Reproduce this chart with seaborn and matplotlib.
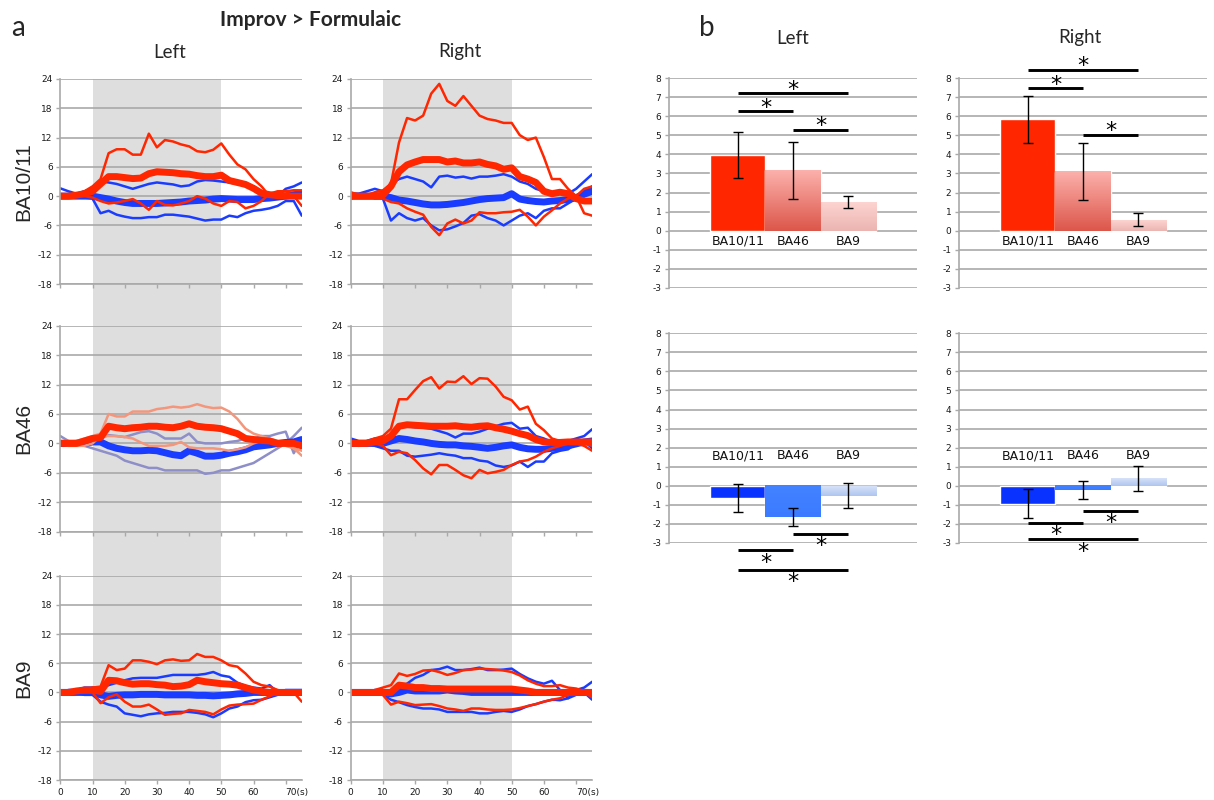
import numpy as np
import pandas as pd
import matplotlib
matplotlib.use("Agg")
import matplotlib.pyplot as plt
import matplotlib.transforms as mtransforms
from matplotlib.patches import Rectangle
from matplotlib.colors import LinearSegmentedColormap
import seaborn as sns

# ---------------- data: panel a (time courses) ----------------
TIME = [0, 2.5, 5, 7.5, 10, 12.5, 15, 17.5, 20, 22.5, 25, 27.5, 30, 32.5, 35,
        37.5, 40, 42.5, 45, 47.5, 50, 52.5, 55, 57.5, 60, 62.5, 65, 67.5, 70, 72.5, 75]
X_TICKS = [0, 10, 20, 30, 40, 50, 60, 70]
X_TICK_LABELS = ["0", "10", "20", "30", "40", "50", "60", "70(s)"]
Y_TICKS_A = [-18, -12, -6, 0, 6, 12, 18, 24]

# BA10/11 Left
L1011_red_m = [0, 0, 0.2, 0.5, 1, 2.5, 4, 4, 3.8, 3.6, 3.7, 4.6, 5, 4.9, 4.8, 4.6, 4.5, 4.2, 4.0, 4.0, 4.3, 3.2, 2.8, 2.4, 1.6, 0.6, 0.3, 0.1, 0, 0, 0]
L1011_red_hi = [0, 0.2, 0.3, 1, 2, 3.5, 8.8, 9.6, 9.6, 8.5, 8.5, 12.8, 10, 11.5, 11.2, 10.6, 10.2, 9.2, 9, 9.5, 10.8, 8.5, 6.5, 5.5, 3.5, 2, 0, 0.8, 1, 1.2, 1.2]
L1011_red_lo = [0, 0, 0, 0, -0.3, -1, -1.5, -1.3, -1, -0.6, -1.5, -2.8, -1, -1.8, -1.9, -1.5, -1, 0, -0.5, -1.5, -2, -1, -1.2, -2.5, -2, -1, 0.5, 1, 1, 0, -2]
L1011_blue_m = [0, 0, 0, 0, 0, -0.3, -0.6, -1, -1.3, -1.5, -1.5, -1.5, -1.5, -1.4, -1.3, -1.2, -1, -0.9, -0.8, -0.6, -0.5, -0.6, -0.7, -0.7, -0.7, -0.5, -0.4, -0.2, 0, 0.3, 0.5]
L1011_blue_hi = [1.6, 1, 0.5, 1, 1.5, 3, 2.8, 2.5, 2, 1.5, 2, 2.5, 2.8, 2.6, 2.4, 2, 2.2, 3, 3.3, 3.2, 3, 2.8, 2.5, 2.2, 2, 1, 0.5, 0, 1.5, 2, 2.8]
L1011_blue_lo = [0, 0, -0.3, -0.3, -0.5, -3.5, -3, -3.8, -4.2, -4.5, -4.5, -4.3, -4.3, -3.8, -3.8, -4, -4.2, -4.6, -5, -4.8, -4.8, -4, -4.3, -3.5, -3, -2.8, -2.5, -2, -1, -1, -4]

# BA10/11 Right
R1011_red_m = [0, 0, 0, 0, 0.2, 2, 5, 6.4, 7, 7.5, 7.5, 7.5, 7, 7.2, 6.8, 6.8, 7, 6.5, 6.2, 5.5, 5.8, 4, 3.5, 2.8, 1, 0.5, 0.8, 0.5, -0.5, -1, -1]
R1011_red_hi = [0.8, 0.3, 0.2, 0.8, 1.2, 2.5, 11, 16, 15.5, 16.5, 21, 23, 19.5, 18.5, 20.5, 18.5, 16.5, 15.8, 15.5, 15, 15, 12.5, 11.5, 12, 8, 3.5, 3.5, 1.5, 0, -3.5, -4]
R1011_red_lo = [0, 0, 0.3, -0.5, -0.5, -1.2, -1.5, -2.5, -3.2, -3.8, -6.3, -8, -5.6, -4.8, -5.6, -5, -3.3, -3.5, -3.5, -3.3, -3.2, -2.8, -4.2, -6, -4.2, -2.9, -1.5, -0.5, 0, 1.5, 2]
R1011_blue_m = [0, 0, 0, 0, 0, -0.3, -0.8, -1, -1.3, -1.6, -1.8, -1.8, -1.7, -1.5, -1.3, -1, -0.7, -0.5, -0.4, -0.3, 0.5, -0.6, -0.9, -1.1, -1.2, -1, -0.9, -0.7, -0.3, 0.4, 1]
R1011_blue_hi = [0.5, 0.5, 1, 1.5, 1, 2.5, 3.5, 4, 3.5, 3, 1.8, 4, 4.2, 3.8, 4, 3.6, 4, 4, 4.2, 4.5, 4, 3, 2.5, 1.5, 1, 0.5, 0.5, 0.5, 1.5, 3, 4.5]
R1011_blue_lo = [-0.5, 0, 0, 0, -0.5, -5, -3.5, -4.5, -5, -4.5, -6, -7, -6.8, -6.2, -5.5, -4, -3.7, -4.5, -5, -6, -5, -4, -3.5, -4.5, -3, -2.5, -2.5, -1.5, -0.5, 1, 2]

# BA46 Left
L46_red_m = [0, 0, 0, 0.5, 1, 1.2, 3.5, 3.2, 3, 3.2, 3.3, 3.5, 3.5, 3.3, 3.2, 3.5, 4, 3.5, 3.3, 3.2, 3, 2.5, 2, 1, 0.8, 0.6, 0.5, 0, 0, 0, -0.5]
L46_red_hi = [0, 0.3, 0.5, 1, 1.5, 2, 6, 5.5, 5.5, 6.5, 6.5, 6.5, 7, 7.2, 7.5, 7.3, 7.5, 8, 7.5, 7.2, 7.3, 6.5, 5, 3, 2, 1.5, 1, 0.5, 0, -1, -2.5]
L46_red_lo = [0, -0.5, -0.5, -0.5, 0, 1.5, 1.5, 1.5, 1.3, 1, 0.2, -0.5, -0.5, -0.5, -0.3, 0.3, -0.8, -1, -1, -1, -1.2, -1.5, -1.2, -0.8, 0, 0.5, 0.5, 0, -0.5, -1, -1.5]
L46_blue_m = [0, 0, 0, 0, 0.3, 0.3, -0.5, -1, -1.3, -1.5, -1.5, -1.4, -1.5, -1.9, -2.3, -2.5, -1.5, -2, -2.6, -2.6, -2.4, -2, -1.7, -1.3, -0.7, -0.5, -0.3, 0, 0.2, 0.3, 0.8]
L46_blue_hi = [0.5, 0.5, 0.5, 0.5, 0.5, 1, 1.7, 1.5, 1.3, 1.8, 2.3, 2.5, 2, 1, 1, 1, 2, 0.3, 0, 0, 0, 0.3, 0.5, 1, 1, 1.5, 1.5, 2, 2.4, -2, 1]
L46_blue_lo = [1.5, 0.5, 0, -0.5, -1, -1.5, -2, -2.5, -3.5, -4, -4.5, -5, -5, -5.5, -5.5, -5.5, -5.5, -5.5, -6.2, -6, -5.5, -5.5, -5, -4.5, -4, -3, -2, -1, 0, 1.5, 3.2]

# BA46 Right
R46_red_m = [0, 0, 0, 0.3, 0.5, 1.5, 3.5, 3.8, 3.7, 3.6, 3.5, 3.5, 3.5, 3.6, 3.4, 3.3, 3.5, 3.6, 3.2, 2.9, 2.5, 2.0, 1.6, 0.8, 0.3, 0.2, 0.2, 0.3, 0.3, 0.3, 0.3]
R46_red_hi = [0.5, 0, 0.5, 1, 1.5, 3, 9, 9, 10.9, 12.7, 13.5, 11.2, 12.6, 12.5, 13.7, 12.1, 13.3, 13.2, 11.6, 9.5, 8.8, 6.9, 7.5, 4, 2.7, 1, 0.5, 0.5, 0, 0, -0.5]
R46_red_lo = [0, -0.5, 0, 0, -0.5, -2.4, -1.7, -2, -3.4, -5.1, -6.3, -4.4, -4.4, -5.4, -6.5, -7.1, -5.4, -6.1, -5.8, -5.4, -4.4, -3.7, -3.4, -2.7, -1.7, -1, -0.5, 0, 0, -0.5, -1.5]
R46_blue_m = [0, 0, 0, 0, 0, 0.5, 1, 0.8, 0.5, 0.3, 0, -0.2, -0.3, -0.3, -0.5, -0.6, -0.8, -1, -0.8, -0.5, -0.3, -0.8, -1.1, -1.2, -1.2, -1, -0.8, -0.5, -0.1, 0.3, 0.5]
R46_blue_hi = [1, 0.5, 0.5, 1, 1, 1.5, 3.7, 3.5, 3.3, 3.2, 3, 2.5, 2, 1.2, 2, 2, 2.4, 3, 3.5, 4, 4.2, 3, 3.2, 1.5, 1, 0.3, -0.3, 0.5, 1, 1.5, 2.9]
R46_blue_lo = [0, 0, 0, -0.5, -1, -1.5, -1.5, -2.5, -2.7, -2.5, -2.3, -2, -2.3, -2.5, -3, -3, -3.5, -3.7, -4.5, -4.8, -4.5, -3.7, -4.8, -3.7, -3.7, -2, -1.5, -1.2, 0, 0.5, -1]

# BA9 Left
L9_red_m = [0, 0, 0.3, 0.5, 0.5, 0.2, 2.5, 2.4, 2, 1.7, 1.8, 1.8, 1.6, 1.5, 1.2, 1.3, 1.6, 2.5, 2.2, 2, 1.8, 1.7, 1.5, 1, 0.5, 0.2, 0, 0, 0, 0, 0]
L9_red_hi = [0, 0, 0.5, 0.5, 1, 1.2, 5.6, 4.6, 4.9, 6.6, 6.6, 6.3, 5.8, 6.6, 6.8, 6.5, 6.6, 7.9, 7.3, 7.3, 6.6, 5.6, 5.3, 3.9, 2.2, 1.5, 1.2, 0.5, 0.2, 0, -1.9]
L9_red_lo = [0, 0, 0, 0, 0, -2.2, -1, -0.4, -1.9, -2.9, -2.9, -2.5, -3.5, -4.6, -4.4, -4.3, -3.6, -3.8, -4, -4.5, -3.5, -2.7, -2.5, -2.4, -2.3, -1.5, -0.8, 0, 0, 0, 0]
L9_blue_m = [0, 0, 0, 0, 0, -0.5, -0.8, -0.6, -0.5, -0.5, -0.4, -0.4, -0.4, -0.5, -0.5, -0.5, -0.5, -0.6, -0.6, -0.7, -0.6, -0.5, -0.3, -0.2, 0, 0, 0, 0, 0, 0, 0]
L9_blue_hi = [0, 0.5, 0.5, 1, 1, 1, 1.5, 2, 2.5, 2.9, 3, 3, 3, 3.3, 3.6, 3.6, 3.6, 3.6, 3.8, 4.2, 3.5, 3.2, 2, 1.3, 1, 0.8, 1.5, 0, 0.5, 0.5, 0.5]
L9_blue_lo = [0, 0, 0, -0.5, -0.5, -1.9, -2.5, -2.9, -4.3, -4.6, -4.9, -4.5, -4.3, -4.2, -4, -4, -4, -4.2, -4.5, -5.1, -4.3, -3.3, -2.9, -2, -1.6, -1.5, -1, -0.5, 0, 0, 0]

# BA9 Right
R9_red_m = [0, 0, 0, 0, 0, 0, 1.5, 1.3, 1, 1, 0.8, 0.8, 0.7, 0.7, 0.7, 0.7, 0.7, 0.7, 0.7, 0.7, 0.7, 0.5, 0.3, 0, 0, 0, 0, 0, 0, 0, 0]
R9_red_hi = [0, 0, 0, 0.5, 1, 1.5, 3.9, 3.4, 3.8, 4.5, 4.6, 4.2, 3.6, 4, 4.6, 4.7, 4.9, 4.8, 4.7, 4.5, 4.2, 3.5, 2.5, 1.8, 1.3, 1.3, 1.5, 1, 0.8, 0.3, 0]
R9_red_lo = [0, 0, 0, 0, -0.5, -2.5, -1.9, -2.2, -2.6, -2.5, -2.4, -2.8, -3.3, -3.5, -3.8, -3.3, -3.3, -3.5, -3.6, -3.6, -3.5, -3.2, -2.8, -2.4, -1.9, -1.5, -1.2, -0.5, 0, 0, -1]
R9_blue_m = [0, 0, 0, 0, 0, -0.3, 0, 0.5, 0.3, 0.3, 0.3, 0.3, 0.5, 0.3, 0.2, 0, 0, 0, 0, 0, 0, 0, 0, 0, 0, 0, 0, 0, 0, 0, 0]
R9_blue_hi = [0, 0, 0, 0.5, 0.5, 0, 0.5, 1.8, 3, 3.6, 4.6, 4.8, 5.3, 4.6, 4.6, 4.8, 5.1, 4.6, 4.6, 4.7, 4.9, 3.8, 2.9, 2.2, 1.8, 2.4, 0.5, -1.2, 0.5, 1, 2.2]
R9_blue_lo = [0, 0, 0, 0, -0.5, -1.5, -2, -2.6, -3, -3.3, -3.3, -3.5, -4, -4, -4, -4, -4.3, -4.3, -4, -3.8, -4, -3.5, -2.8, -2.4, -1.9, -1.5, -1.6, -1.2, -0.5, 0, -1.5]

ROW_LABELS = ["BA10/11", "BA46", "BA9"]

# ---------------- data: panel b (bar charts) ----------------
CATS = ["BA10/11", "BA46", "BA9"]
L_IMPROV = [3.97, 3.16, 1.51]
L_IMPROV_ERR = [1.22, 1.50, 0.32]
R_IMPROV = [5.84, 3.10, 0.57]
R_IMPROV_ERR = [1.24, 1.50, 0.33]
L_FORMUL = [-0.64, -1.65, -0.52]
L_FORMUL_ERR = [0.74, 0.47, 0.66]
R_FORMUL = [-0.93, -0.23, 0.39]
R_FORMUL_ERR = [0.75, 0.46, 0.67]
Y_TICKS_B = [-3, -2, -1, 0, 1, 2, 3, 4, 5, 6, 7, 8]

# significance brackets: (from bar, to bar, line height, star centre)
SIG_L_IMPROV = [(0, 2, 7.23, 7.62), (0, 1, 6.27, 6.66), (1, 2, 5.30, 5.72)]
SIG_R_IMPROV = [(0, 2, 8.46, 8.88), (0, 1, 7.49, 7.90), (1, 2, 5.02, 5.44)]
SIG_L_FORMUL = [(1, 2, -2.51, -2.92), (0, 1, -3.39, -3.80), (0, 2, -4.40, -4.84)]
SIG_R_FORMUL = [(1, 2, -1.31, -1.73), (0, 1, -1.94, -2.36), (0, 2, -2.78, -3.24)]

# ---------------- style ----------------
sns.set_theme(style="white")
plt.rcParams['font.family'] = ['DejaVu Sans']
plt.rcParams['axes.unicode_minus'] = False

W, H = 1214, 800
fig = plt.figure(figsize=(W / 100, H / 100), dpi=100)
GRID_C = '#a9a9a9'
RED = '#ff2600'
BLUE = '#1a3cff'
SALMON = '#f3967c'
GREYBLUE = '#8e8ec8'
TICK_FS = 6.5


def frect(x, y_top, w, h):
    return [x / W, 1 - (y_top + h) / H, w / W, h / H]


# ---------------- panel a ----------------
col_x = [60.3, 350.7]
col_w = 241.5
row_top = [79.0, 325.7, 575.7]
row_h = [205.0, 206.0, 204.3]

series = [
    [(L1011_red_m, L1011_red_hi, L1011_red_lo, L1011_blue_m, L1011_blue_hi, L1011_blue_lo),
     (R1011_red_m, R1011_red_hi, R1011_red_lo, R1011_blue_m, R1011_blue_hi, R1011_blue_lo)],
    [(L46_red_m, L46_red_hi, L46_red_lo, L46_blue_m, L46_blue_hi, L46_blue_lo),
     (R46_red_m, R46_red_hi, R46_red_lo, R46_blue_m, R46_blue_hi, R46_blue_lo)],
    [(L9_red_m, L9_red_hi, L9_red_lo, L9_blue_m, L9_blue_hi, L9_blue_lo),
     (R9_red_m, R9_red_hi, R9_red_lo, R9_blue_m, R9_blue_hi, R9_blue_lo)],
]

axes_a = [[None, None] for _ in range(3)]
for r in range(3):
    for c in range(2):
        ax = fig.add_axes(frect(col_x[c], row_top[r], col_w, row_h[r]))
        ax.set_facecolor('none')
        axes_a[r][c] = ax
        rm, rh, rl, bm, bh, bl = series[r][c]
        thin_red = SALMON if (r == 1 and c == 0) else RED
        thin_blue = GREYBLUE if (r == 1 and c == 0) else BLUE
        for vals in (bh, bl):
            sns.lineplot(x=TIME, y=vals, ax=ax, color=thin_blue, lw=1.8, sort=False, estimator=None)
        sns.lineplot(x=TIME, y=bm, ax=ax, color=BLUE, lw=5.0, sort=False, estimator=None)
        for vals in (rh, rl):
            sns.lineplot(x=TIME, y=vals, ax=ax, color=thin_red, lw=1.8, sort=False, estimator=None)
        sns.lineplot(x=TIME, y=rm, ax=ax, color=RED, lw=5.0, sort=False, estimator=None)
        ax.set_xlim(0, 75)
        ax.set_ylim(-18, 24)
        ax.set_yticks(Y_TICKS_A)
        ax.set_yticklabels([str(v) for v in Y_TICKS_A])
        ax.set_xticks(X_TICKS)
        if r == 2:
            ax.set_xticklabels(X_TICK_LABELS)
            lab = ax.get_xticklabels()[-1]
            lab.set_ha('left')
            lab.set_transform(lab.get_transform() +
                              mtransforms.ScaledTranslation(-6 / 72, 0, fig.dpi_scale_trans))
        else:
            ax.set_xticklabels([])
        ax.set_xlabel('')
        ax.set_ylabel('')
        ax.grid(axis='y', color=GRID_C, lw=1.2)
        ax.grid(axis='x', visible=False)
        ax.set_axisbelow(True)
        for s in ['top', 'right']:
            ax.spines[s].set_visible(False)
        for s in ['left', 'bottom']:
            ax.spines[s].set_color(GRID_C)
            ax.spines[s].set_linewidth(1.2)
        ax.tick_params(axis='both', which='major', bottom=True, left=True, color=GRID_C,
                       length=3, width=1, pad=2.5, labelsize=TICK_FS, labelcolor='#1a1a1a')

# grey stimulus period spanning all three rows
for c in range(2):
    trans = mtransforms.blended_transform_factory(axes_a[2][c].transData, fig.transFigure)
    y0 = 1 - (row_top[2] + row_h[2]) / H
    y1 = 1 - row_top[0] / H
    rect = Rectangle((10, y0), 40, y1 - y0, transform=trans, facecolor='#dedede',
                     edgecolor='none', zorder=-1)
    fig.add_artist(rect)

for r in range(3):
    fig.text(24 / W, 1 - (row_top[r] + row_h[r] / 2) / H, ROW_LABELS[r], rotation=90,
             ha='center', va='center', fontsize=15, family='Liberation Sans')

fig.text(18 / W, 1 - 28 / H, 'a', ha='center', va='center', fontsize=20, family='Lato')
fig.text(311 / W, 1 - 20 / H, 'Improv > Formulaic', ha='center', va='center',
         fontsize=15, family='Lato', fontweight='bold')
fig.text(170 / W, 1 - 52 / H, 'Left', ha='center', va='center', fontsize=13.5, family='Lato')
fig.text(460 / W, 1 - 52 / H, 'Right', ha='center', va='center', fontsize=13.5, family='Lato')

# ---------------- panel b ----------------
fig.text(707 / W, 1 - 28 / H, 'b', ha='center', va='center', fontsize=20, family='Lato')
fig.text(793 / W, 1 - 38 / H, 'Left', ha='center', va='center', fontsize=13.5, family='Lato')
fig.text(1080 / W, 1 - 38 / H, 'Right', ha='center', va='center', fontsize=13.5, family='Lato')

RED_COLS = [('#ff2600', '#ff2600'), ('#fcb1ac', '#dc564a'), ('#fdd4d1', '#ebb4b1')]
BLUE_COLS = [('#0a32ff', '#0a32ff'), ('#4382ff', '#3b7bff'), ('#d6e2f8', '#aec5f0')]

bx = [669.0, 959.0]
bw = 248.0
by = [78.3, 333.3]
bh = [209.4, 209.7]

panels_b = [
    (0, 0, L_IMPROV, L_IMPROV_ERR, RED_COLS, SIG_L_IMPROV, -0.56),
    (0, 1, R_IMPROV, R_IMPROV_ERR, RED_COLS, SIG_R_IMPROV, -0.56),
    (1, 0, L_FORMUL, L_FORMUL_ERR, BLUE_COLS, SIG_L_FORMUL, 1.58),
    (1, 1, R_FORMUL, R_FORMUL_ERR, BLUE_COLS, SIG_R_FORMUL, 1.58),
]

for (r, c, vals, errs, cols, sigs, lab_y) in panels_b:
    ax = fig.add_axes(frect(bx[c], by[r], bw, bh[r]))
    df = pd.DataFrame({'region': CATS, 'value': vals})
    sns.barplot(data=df, x='region', y='value', hue='region', order=CATS, hue_order=CATS,
                palette=[cc[0] for cc in cols], width=1.0, saturation=1, legend=False,
                errorbar=None, ax=ax, zorder=2)
    # gradient fill for the bars
    for patch, (ctop, cbot) in zip(ax.patches, cols):
        x0, y0 = patch.get_x(), patch.get_y()
        w, h = patch.get_width(), patch.get_height()
        ylo, yhi = min(y0, y0 + h), max(y0, y0 + h)
        if ctop != cbot:
            cmap = LinearSegmentedColormap.from_list('g', [cbot, ctop])
            ax.imshow(np.linspace(0, 1, 128).reshape(-1, 1), extent=[x0, x0 + w, ylo, yhi],
                      origin='lower', cmap=cmap, aspect='auto', zorder=2.1,
                      interpolation='bilinear')
    ax.errorbar(range(len(CATS)), vals, yerr=errs, fmt='none', ecolor='black',
                elinewidth=1.0, capsize=3.5, capthick=1.0, zorder=4)
    for i, lab in enumerate(CATS):
        ax.text(i, lab_y, lab, ha='center', va='center', fontsize=9, color='#111111', zorder=5)
    for (i, j, yl, ys) in sigs:
        ax.plot([i, j], [yl, yl], color='black', lw=2.1, solid_capstyle='butt',
                clip_on=False, zorder=5)
        ax.annotate('*', xy=((i + j) / 2, ys), xytext=(0, -7.5), textcoords='offset points',
                    ha='center', va='baseline', fontsize=16, color='black',
                    annotation_clip=False, zorder=5)
    ax.set_xlim(-1.25, 3.25)
    ax.set_ylim(-3, 8)
    ax.set_yticks(Y_TICKS_B)
    ax.set_yticklabels([str(v) for v in Y_TICKS_B])
    ax.set_xticks([])
    ax.set_xlabel('')
    ax.set_ylabel('')
    ax.grid(axis='y', color=GRID_C, lw=1.2)
    ax.grid(axis='x', visible=False)
    ax.set_axisbelow(True)
    for s in ['top', 'right', 'bottom']:
        ax.spines[s].set_visible(False)
    ax.spines['left'].set_color(GRID_C)
    ax.spines['left'].set_linewidth(1.2)
    ax.tick_params(axis='y', left=True, color=GRID_C, length=3, width=1, pad=2.5,
                   labelsize=TICK_FS, labelcolor='#1a1a1a')

fig.savefig('out.png', dpi=100)
